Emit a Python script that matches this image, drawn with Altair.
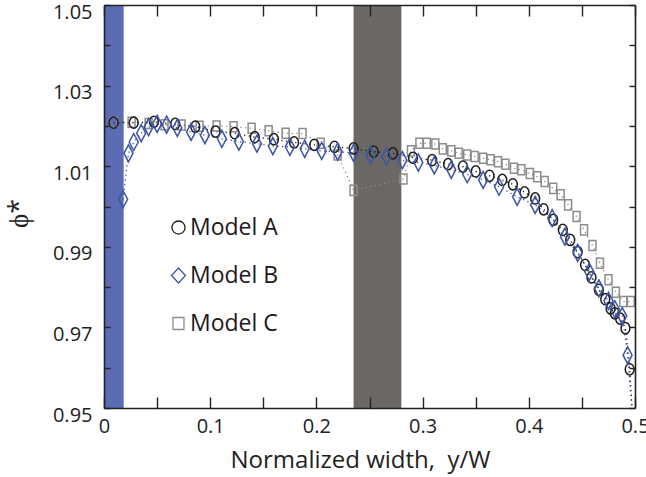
import altair as alt
import pandas as pd

# ---------------- data ----------------
models = ["Model A", "Model B", "Model C"]

a_x = [0.009, 0.028, 0.047, 0.067, 0.086, 0.105, 0.123, 0.142, 0.160, 0.179,
       0.198, 0.217, 0.235, 0.254, 0.272, 0.291, 0.309, 0.324, 0.338, 0.350,
       0.363, 0.375, 0.385, 0.396, 0.406, 0.414, 0.423, 0.432, 0.439, 0.446,
       0.453, 0.459, 0.466, 0.472, 0.477, 0.481, 0.486, 0.491, 0.495, 0.500]
a_y = [1.0208, 1.0208, 1.0210, 1.0205, 1.0198, 1.0186, 1.0182, 1.0172, 1.0167, 1.0159,
       1.0153, 1.0148, 1.0144, 1.0136, 1.0132, 1.0121, 1.0115, 1.0105, 1.0099, 1.0087,
       1.0076, 1.0066, 1.0055, 1.0035, 1.0020, 0.9993, 0.9967, 0.9942, 0.9917, 0.9887,
       0.9855, 0.9824, 0.9793, 0.9770, 0.9747, 0.9735, 0.9722, 0.9698, 0.9596, 0.9380]

b_x = [0.018, 0.023, 0.028, 0.035, 0.042, 0.050, 0.059, 0.069, 0.082, 0.095,
       0.111, 0.127, 0.144, 0.159, 0.175, 0.189, 0.205, 0.220, 0.235, 0.251,
       0.266, 0.281, 0.296, 0.311, 0.327, 0.342, 0.357, 0.372, 0.389, 0.406,
       0.422, 0.434, 0.446, 0.457, 0.466, 0.475, 0.481, 0.488, 0.493, 0.500]
b_y = [1.0018, 1.0132, 1.0160, 1.0182, 1.0197, 1.0205, 1.0203, 1.0195, 1.0185, 1.0177,
       1.0168, 1.0161, 1.0156, 1.0150, 1.0148, 1.0143, 1.0138, 1.0136, 1.0133, 1.0128,
       1.0124, 1.0115, 1.0109, 1.0102, 1.0091, 1.0080, 1.0066, 1.0049, 1.0024, 1.0004,
       0.9971, 0.9925, 0.9885, 0.9838, 0.9797, 0.9766, 0.9745, 0.9728, 0.9631, 0.9400]

c_x = [0.009, 0.026, 0.042, 0.057, 0.073, 0.090, 0.106, 0.122, 0.139, 0.155,
       0.171, 0.187, 0.204, 0.220, 0.235, 0.282, 0.289, 0.297, 0.304, 0.312,
       0.319, 0.327, 0.334, 0.342, 0.349, 0.357, 0.364, 0.371, 0.378, 0.386,
       0.393, 0.401, 0.408, 0.415, 0.423, 0.430, 0.437, 0.445, 0.452, 0.460,
       0.467, 0.475, 0.482, 0.489, 0.496]
c_y = [1.0209, 1.0209, 1.0206, 1.0203, 1.0202, 1.0199, 1.0200, 1.0198, 1.0194, 1.0188,
       1.0182, 1.0181, 1.0157, 1.0128, 1.0040, 1.0068, 1.0138, 1.0157, 1.0157, 1.0155,
       1.0143, 1.0138, 1.0132, 1.0128, 1.0124, 1.0120, 1.0116, 1.0111, 1.0105, 1.0095,
       1.0091, 1.0082, 1.0074, 1.0062, 1.0045, 1.0029, 1.0004, 0.9975, 0.9942, 0.9903,
       0.9859, 0.9818, 0.9787, 0.9764, 0.9764]

band_start = [0.0, 0.235]
band_end = [0.0185, 0.28]
band_color = ["#5b6bb4", "#6b6765"]

x_ticks = [0, 0.05, 0.1, 0.15, 0.2, 0.25, 0.3, 0.35, 0.4, 0.45, 0.5]
y_ticks = [0.95, 0.96, 0.97, 0.98, 0.99, 1.0, 1.01, 1.02, 1.03, 1.04, 1.05]

x_title = "Normalized width,\u00a0\u00a0y/W"
y_title = "ϕ*"

# ---------------- styling ----------------
series_colors = ["#1c1c1c", "#3b54a5", "#8c8c8c"]
# tall shapes for the data markers
data_shapes = [
    "M0,-0.66A0.52,0.66 0 1,1 0,0.66A0.52,0.66 0 1,1 0,-0.66Z",
    "M0,-1L0.53,0L0,1L-0.53,0Z",
    "M-0.41,-0.59H0.41V0.59H-0.41Z",
]
# rounder shapes for the legend
legend_shapes = [
    "M0,-0.87A0.87,0.87 0 1,1 0,0.87A0.87,0.87 0 1,1 0,-0.87Z",
    "M0,-1L0.93,0L0,1L-0.93,0Z",
    "M-0.73,-0.8H0.73V0.8H-0.73Z",
]

FONT = "Open Sans"
INK = "#222222"
W, H = 531, 403
XT, YT = 11, 6  # tick lengths

rows = []
for m, xs_, ys_ in [("Model C", c_x, c_y), ("Model A", a_x, a_y), ("Model B", b_x, b_y)]:
    for xv, yv in zip(xs_, ys_):
        rows.append({"model": m, "x": xv, "y": yv})
df = pd.DataFrame(rows)
bands = pd.DataFrame({"start": band_start, "end": band_end, "color": band_color})

xsc = alt.Scale(domain=[0, 0.5], nice=False, zero=False)
ysc = alt.Scale(domain=[0.95, 1.05], nice=False, zero=False)


def tick_axis(orient, values, size, **kw):
    return alt.Axis(orient=orient, values=values, offset=-size, tickSize=size,
                    tickWidth=1.4, tickColor=INK, domain=False, grid=False,
                    zindex=1, **kw)


def frame_axis(orient):
    return alt.Axis(orient=orient, domain=True, domainColor=INK, domainWidth=1.6,
                    ticks=False, labels=False, grid=False, title=None, zindex=1)


band_layer = alt.Chart(bands).mark_rect().encode(
    x=alt.X("start:Q", scale=xsc, axis=None),
    x2="end:Q",
    color=alt.Color("color:N", scale=None),
)

line_layer = alt.Chart(df).mark_line(strokeDash=[1.3, 3.4], strokeWidth=1.3, clip=True).encode(
    x=alt.X("x:Q", scale=xsc, axis=frame_axis("bottom")),
    y=alt.Y("y:Q", scale=ysc, axis=frame_axis("left")),
    color=alt.Color("model:N", scale=alt.Scale(domain=models, range=series_colors), legend=None),
)

point_layer = alt.Chart(df).mark_point(filled=False, size=289, strokeWidth=1.5, opacity=1, clip=True).encode(
    x=alt.X("x:Q", scale=xsc, axis=tick_axis(
        "bottom", x_ticks, XT,
        labelExpr="(round(datum.value*100) % 10 == 0) ? format(datum.value, '.1~f') : ''",
        labelFlush=False, labelOverlap=False, labelFont=FONT, labelFontSize=20,
        labelColor=INK, labelPadding=8,
        title=x_title, titleFont=FONT, titleFontSize=24,
        titleFontWeight="normal", titleColor=INK, titlePadding=12, titleX=256)),
    y=alt.Y("y:Q", scale=ysc, axis=tick_axis(
        "left", y_ticks, YT,
        labelExpr="(round(datum.value*100) % 2 == 1) ? format(datum.value, '.2f') : ''",
        labelOverlap=False, labelFont=FONT, labelFontSize=20, labelColor=INK,
        labelPadding=12, labelOffset=7,
        title=y_title, titleFont=FONT, titleFontSize=27, titleFontWeight="normal",
        titleColor=INK, titlePadding=19, titleY=208)),
    color=alt.Color("model:N", scale=alt.Scale(domain=models, range=series_colors), legend=None),
    shape=alt.Shape("model:N", scale=alt.Scale(domain=models, range=data_shapes), legend=None),
)

leg = alt.Legend(orient="none", legendX=63, legendY=211, title=None,
                 labelFont=FONT, labelFontSize=23, labelColor="#1a1a1a",
                 symbolSize=225, symbolStrokeWidth=1.3, rowPadding=24,
                 labelOffset=0, padding=0)

guide_layer = alt.Chart(df).transform_filter("false").mark_point(filled=False, opacity=1).encode(
    x=alt.X("x:Q", scale=xsc, axis=tick_axis("top", x_ticks, XT, labels=False, title=None)),
    y=alt.Y("y:Q", scale=ysc, axis=tick_axis("right", y_ticks, YT, labels=False, title=None)),
    color=alt.Color("model:N", scale=alt.Scale(domain=models, range=series_colors), legend=leg),
    shape=alt.Shape("model:N", scale=alt.Scale(domain=models, range=legend_shapes), legend=leg),
)

frame_layer = alt.Chart(df).transform_filter("false").mark_point().encode(
    x=alt.X("x:Q", scale=xsc, axis=frame_axis("top")),
    y=alt.Y("y:Q", scale=ysc, axis=frame_axis("right")),
)

chart = (
    alt.layer(band_layer, line_layer, point_layer, guide_layer, frame_layer)
    .resolve_scale(color="independent", shape="independent")
    .resolve_axis(x="independent", y="independent")
    .properties(
        width=W, height=H,
        autosize=alt.AutoSizeParams(type="none"),
        padding={"left": 104, "top": 5, "right": 11, "bottom": 69},
        background="white",
    )
    .configure_view(strokeWidth=0)
)

chart.save("out.html", embed_options={"renderer": "svg", "actions": False})
